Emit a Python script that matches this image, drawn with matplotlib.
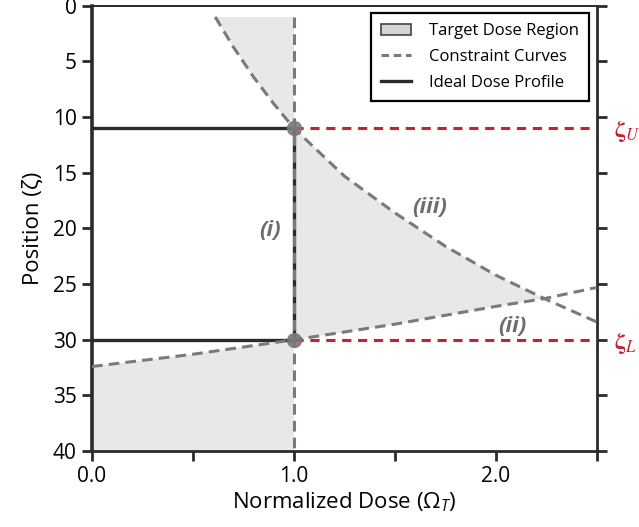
import matplotlib
matplotlib.use('Agg')
import matplotlib.pyplot as plt
from matplotlib.patches import Patch
from matplotlib.lines import Line2D

plt.rcParams['font.family'] = ['Open Sans', 'DejaVu Sans']
plt.rcParams['mathtext.fontset'] = 'custom'
plt.rcParams['mathtext.rm'] = 'Open Sans'
plt.rcParams['mathtext.it'] = 'Open Sans:italic'

# constraint (iii): upper curve
curve3_x = [0.61, 0.70, 0.80, 0.90, 1.00, 1.25, 1.50, 1.75, 2.00, 2.24, 2.50]
curve3_y = [1.0, 3.7, 6.4, 8.8, 11.0, 15.3, 18.6, 21.6, 24.2, 26.3, 28.4]
# constraint (ii): lower curve
curve2_x = [0.0, 0.5, 1.0, 1.5, 2.0, 2.24, 2.5]
curve2_y = [32.4, 31.3, 30.0, 28.6, 27.0, 26.3, 25.3]
# constraint (i): vertical line at unit dose
dose_i = 1.0
top_i = 1.0
zeta_u = 11
zeta_l = 30
pos_max = 40
dose_max = 2.5

gray = '#7a7a7a'
red = '#c8202f'
dark = '#2b2b2b'
fill_c = '#e8e8e8'

fig = plt.figure(figsize=(6.39, 5.27), dpi=100)
ax = fig.add_axes([0.144, 0.144, 0.79, 0.845])

# target dose region (three pieces)
top_x = curve3_x[:5] + [dose_i]
top_y = curve3_y[:5] + [top_i]
ax.fill(top_x, top_y, color=fill_c, lw=0, zorder=1)

mid_x = curve3_x[4:10] + curve2_x[2:6][::-1]
mid_y = curve3_y[4:10] + curve2_y[2:6][::-1]
ax.fill(mid_x, mid_y, color=fill_c, lw=0, zorder=1)

low_x = curve2_x[:3] + [dose_i, 0.0]
low_y = curve2_y[:3] + [pos_max, pos_max]
ax.fill(low_x, low_y, color=fill_c, lw=0, zorder=1)

# ideal dose profile
ax.plot([0, dose_i], [zeta_u, zeta_u], color=dark, lw=2.4, zorder=3)
ax.plot([dose_i, dose_i], [zeta_u, zeta_l], color=dark, lw=2.4, zorder=3)
ax.plot([0, dose_i], [zeta_l, zeta_l], color=dark, lw=2.4, zorder=3)

# constraint curves
dash = (3.5, 2.0)
ax.plot([dose_i, dose_i], [top_i, pos_max], color=gray, lw=2.2, dashes=dash, zorder=4)
ax.plot(curve3_x, curve3_y, color=gray, lw=2.2, dashes=dash, zorder=4)
ax.plot(curve2_x, curve2_y, color=gray, lw=2.2, dashes=dash, zorder=4)

# zeta_U / zeta_L levels
ax.plot([dose_i, dose_max], [zeta_u, zeta_u], color=red, lw=2.2, dashes=(3, 2.2), zorder=4)
ax.plot([dose_i, dose_max], [zeta_l, zeta_l], color=red, lw=2.2, dashes=(3, 2.2), zorder=4)
ax.plot([dose_i, dose_i], [zeta_u, zeta_l], 'o', color=gray, ms=10, alpha=0.9, zorder=5)

ax.text(2.585, zeta_u + 0.3, r'$\mathbf{\zeta}_{\mathbf{\mathit{U}}}$', color=red, fontsize=17,
        va='center', ha='left', math_fontfamily='stix', clip_on=False)
ax.text(2.585, zeta_l + 0.3, r'$\mathbf{\zeta}_{\mathbf{\mathit{L}}}$', color=red, fontsize=17,
        va='center', ha='left', math_fontfamily='stix', clip_on=False)

lab_kw = dict(color='#6e6e6e', fontsize=16, fontweight='bold', style='italic',
              ha='center', va='center')
ax.text(0.88, 20.2, '(i)', **lab_kw)
ax.text(1.67, 18.1, '(iii)', **lab_kw)
ax.text(2.08, 28.8, '(ii)', **lab_kw)

ax.set_xlim(0, dose_max)
ax.set_ylim(pos_max, 0)
ax.set_xticks([0, 0.5, 1.0, 1.5, 2.0, 2.5])
ax.set_xticklabels(['0.0', '', '1.0', '', '2.0', ''])
ax.set_yticks(range(0, 41, 5))
ax.tick_params(axis='both', direction='out', length=7, width=2, color=dark,
               labelsize=15, pad=4)
ax.tick_params(axis='y', right=True)

for side, w in [('left', 2.6), ('bottom', 2.0), ('right', 2.0), ('top', 1.4)]:
    ax.spines[side].set_linewidth(w)
    ax.spines[side].set_color(dark)

ax.set_xlabel(r'Normalized Dose ($\Omega_T$)', fontsize=16, labelpad=2)
ax.set_ylabel('Position (ζ)', fontsize=16, labelpad=6)

handles = [
    Patch(facecolor='#d4d4d4', edgecolor='#444444', lw=1.2),
    Line2D([], [], color=gray, lw=2.2, dashes=(2.5, 1.5)),
    Line2D([], [], color=dark, lw=2.4),
]
labels = ['Target Dose Region', 'Constraint Curves', 'Ideal Dose Profile']
leg = ax.legend(handles, labels, loc='upper right', fontsize=12, fancybox=False,
                edgecolor='black', framealpha=1, borderaxespad=0.45,
                handlelength=1.8, handletextpad=1.1, labelspacing=0.6,
                borderpad=0.6)
leg.get_frame().set_linewidth(1.6)
leg.set_zorder(10)

plt.savefig('out.png', dpi=100)
